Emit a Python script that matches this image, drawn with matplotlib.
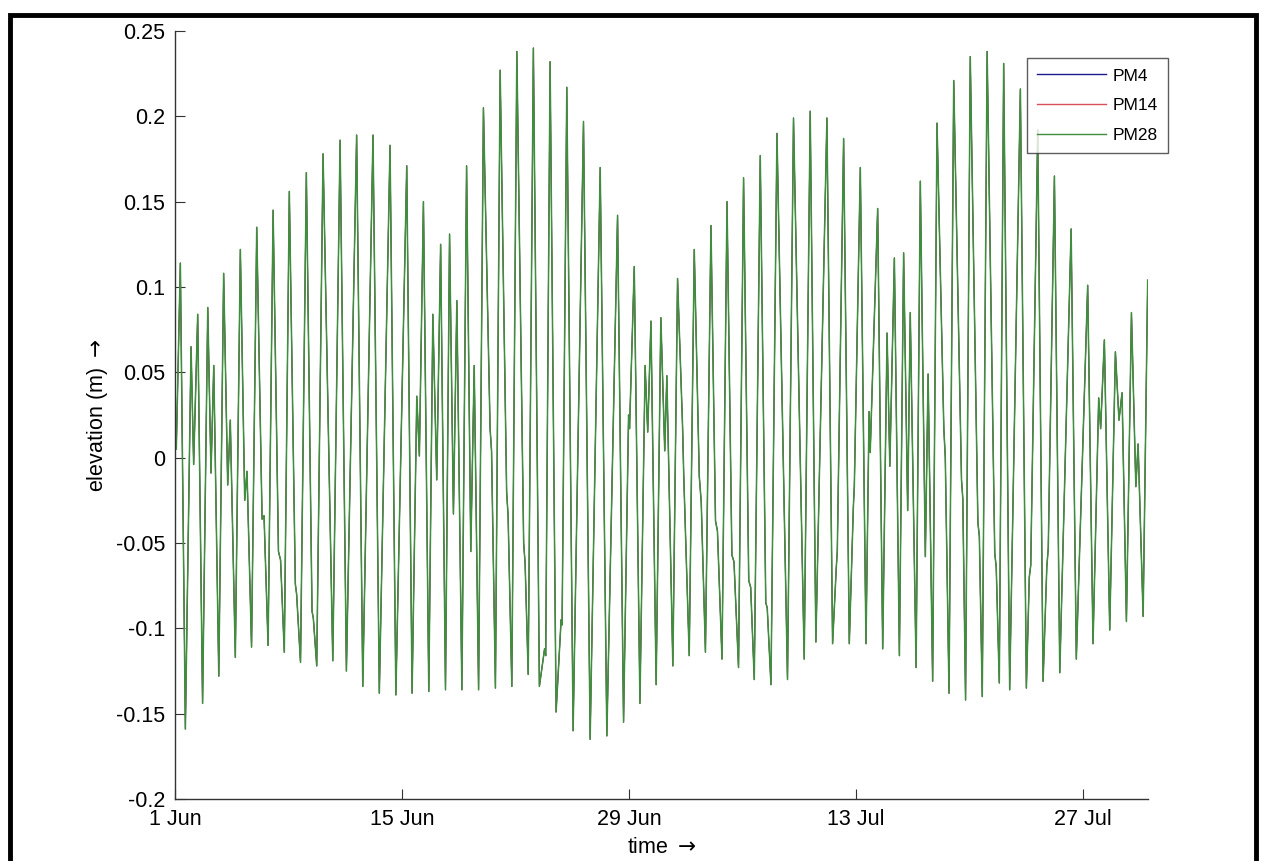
import numpy as np
import matplotlib.pyplot as plt
import matplotlib.dates as mdates
from matplotlib.patches import Rectangle
import datetime as dt

# turning points (and small stands) of the water level
# days after 1 Jun 00:00 / elevation in m
jun_a_day = [0.00, 0.08, 0.33, 0.64, 0.99, 1.15, 1.40, 1.70, 2.02, 2.22, 2.39, 2.70, 3.00, 3.25,
             3.41, 3.72, 4.03, 4.30, 4.44, 4.72, 5.04, 5.37, 5.49, 5.74, 6.05, 6.38, 6.51, 6.74,
             7.05, 7.42, 7.50, 7.74, 8.10, 8.45, 8.53, 8.74, 9.13, 9.73]
jun_a_m = [0.028, 0.005, 0.114, -0.159, 0.065, -0.004, 0.084, -0.144, 0.088, -0.009, 0.054,
           -0.128, 0.108, -0.016, 0.022, -0.117, 0.122, -0.025, -0.008, -0.111, 0.135, -0.036,
           -0.034, -0.110, 0.145, -0.055, -0.060, -0.114, 0.156, -0.074, -0.080, -0.120, 0.167,
           -0.090, -0.094, -0.122, 0.178, -0.119]

jun_b_day = [10.18, 10.57, 11.20, 11.58, 12.21, 12.60, 13.26, 13.62, 14.29, 14.62, 14.91, 15.07,
             15.32, 15.65, 15.90, 16.14, 16.38, 16.68, 16.93, 17.17, 17.38, 17.69, 17.98, 18.24,
             18.45, 18.72]
jun_b_m = [0.186, -0.125, 0.189, -0.134, 0.189, -0.138, 0.183, -0.139, 0.171, -0.138, 0.036,
           0.001, 0.150, -0.137, 0.084, -0.013, 0.125, -0.136, 0.131, -0.033, 0.092, -0.136,
           0.171, -0.055, 0.054, -0.136]

jun_c_day = [19.02, 19.43, 19.52, 19.76, 20.05, 20.45, 20.54, 20.77, 21.08, 21.50, 21.59, 21.78,
             22.10, 22.47, 22.79, 22.86, 23.13, 23.50, 23.81, 23.87, 24.16, 24.55, 25.19, 25.60,
             26.22, 26.63, 27.29, 27.66, 27.97, 28.03, 28.32, 28.67, 28.99, 29.15, 29.35, 29.67,
             29.96, 30.20, 30.33, 30.70]
jun_c_m = [0.205, 0.017, 0.004, -0.135, 0.227, -0.020, -0.034, -0.134, 0.238, -0.050, -0.062,
           -0.127, 0.240, -0.134, -0.112, -0.116, 0.232, -0.149, -0.095, -0.098, 0.217, -0.160,
           0.197, -0.165, 0.170, -0.163, 0.142, -0.155, 0.025, 0.017, 0.112, -0.144, 0.054,
           0.015, 0.080, -0.133, 0.082, 0.004, 0.048, -0.122]

jul_a_day = [30.99, 31.30, 31.37, 31.71, 32.02, 32.33, 32.45, 32.71, 33.05, 33.33, 33.45, 33.73,
             34.04, 34.34, 34.47, 34.75, 35.06, 35.38, 35.50, 35.72, 36.09, 36.43, 36.52, 36.75,
             37.12, 37.77, 38.14, 38.80, 39.17, 39.52, 40.20, 40.55, 40.78, 40.84, 41.23, 41.58,
             41.83, 41.89, 42.26, 42.61, 42.80, 42.87, 43.33, 43.64, 43.91, 44.08, 44.36, 44.67,
             44.93, 45.18, 45.34, 45.70]
jul_a_m = [0.105, 0.018, -0.010, -0.116, 0.122, -0.011, -0.026, -0.114, 0.136, -0.037, -0.043,
           -0.118, 0.150, -0.057, -0.061, -0.123, 0.164, -0.072, -0.076, -0.130, 0.177, -0.085,
           -0.088, -0.133, 0.190, -0.130, 0.199, -0.118, 0.203, -0.108, 0.199, -0.109, -0.064,
           -0.055, 0.187, -0.109, -0.029, -0.017, 0.170, -0.109, 0.027, 0.003, 0.146, -0.112,
           0.073, -0.005, 0.117, -0.116, 0.120, -0.031, 0.085, -0.123]

jul_b_day = [45.96, 46.27, 46.44, 46.72, 46.99, 47.41, 47.50, 47.73, 48.02, 48.50, 48.58, 48.75,
             49.04, 49.51, 49.60, 49.78, 50.08, 50.55, 50.64, 50.83, 51.10, 51.47, 52.13, 52.50,
             52.68, 52.77, 53.20, 53.53, 53.76, 53.85, 54.23, 54.56, 55.26, 55.58, 56.28, 56.61,
             56.96, 57.08, 57.31, 57.64, 57.99, 58.21, 58.40, 58.67, 58.98, 59.25, 59.39, 59.70,
             59.98]
jul_b_m = [0.162, -0.058, 0.049, -0.131, 0.196, 0.017, 0.000, -0.138, 0.221, -0.013, -0.024,
           -0.142, 0.235, -0.038, -0.046, -0.140, 0.238, -0.056, -0.064, -0.132, 0.231, -0.136,
           0.216, -0.135, -0.070, -0.063, 0.192, -0.131, -0.064, -0.053, 0.165, -0.126, 0.134,
           -0.118, 0.101, -0.109, 0.035, 0.017, 0.069, -0.101, 0.062, 0.022, 0.038, -0.096,
           0.085, -0.017, 0.008, -0.093, 0.104]

series_names = ['PM4', 'PM14', 'PM28']
series_colors = ['#1a1a8c', '#d9505a', '#3e8e3e']
series_widths = [0.7, 0.7, 1.1]

day = np.array(jun_a_day + jun_b_day + jun_c_day + jul_a_day + jul_b_day)
elev = np.array(jun_a_m + jun_b_m + jun_c_m + jul_a_m + jul_b_m)
start = dt.datetime(2000, 6, 1)
times = [start + dt.timedelta(days=float(d)) for d in day]

plt.rcParams['font.family'] = ['Liberation Sans', 'DejaVu Sans']
plt.rcParams['mathtext.fontset'] = 'dejavusans'

fig = plt.figure(figsize=(12.61, 8.61), dpi=100)
ax = fig.add_axes([175 / 1261, 1 - 799 / 861, (1148 - 175) / 1261, (799 - 31) / 861])

for name, col, w in zip(series_names, series_colors, series_widths):
    ax.plot(times, elev, color=col, lw=w, label=name)

ax.set_xlim(start, start + dt.timedelta(days=60))
ax.set_ylim(-0.2, 0.25)
ax.set_yticks(np.arange(-0.2, 0.2501, 0.05))
ax.set_yticklabels(['-0.2', '-0.15', '-0.1', '-0.05', '0', '0.05', '0.1', '0.15', '0.2', '0.25'])
ax.set_xticks([start + dt.timedelta(days=d) for d in [0, 14, 28, 42, 56]])
ax.xaxis.set_major_formatter(mdates.DateFormatter('%-d %b'))

ax.spines['top'].set_visible(False)
ax.spines['right'].set_visible(False)
for s in ['left', 'bottom']:
    ax.spines[s].set_color('#333333')
    ax.spines[s].set_linewidth(1.0)
ax.tick_params(direction='in', length=7, width=0.8, colors='#333333', labelcolor='black',
               labelsize=15.5)
ax.tick_params(axis='x', pad=7)
ax.tick_params(axis='y', pad=7)

ax.set_xlabel(r'time $\rightarrow$', fontsize=15.5, labelpad=5)
ax.set_ylabel(r'elevation (m) $\rightarrow$', fontsize=15.5, labelpad=4)

leg = ax.legend(loc='upper right', bbox_to_anchor=(1168 / 1261, 1 - 58 / 861),
                bbox_transform=fig.transFigure, fontsize=12.5, frameon=True, fancybox=False,
                edgecolor='#333333', handlelength=3.97, borderpad=0.6, labelspacing=0.83,
                handletextpad=0.35, borderaxespad=0)
leg.get_frame().set_linewidth(1.0)
for ln in leg.get_lines():
    ln.set_linewidth(1.0)

fig.patches.append(Rectangle((10 / 1261, -0.05), (1256 - 10) / 1261, 1.05 - 15 / 861,
                             transform=fig.transFigure, fill=False, edgecolor='black',
                             linewidth=3.5, zorder=10))

fig.savefig('out.png', dpi=100)
